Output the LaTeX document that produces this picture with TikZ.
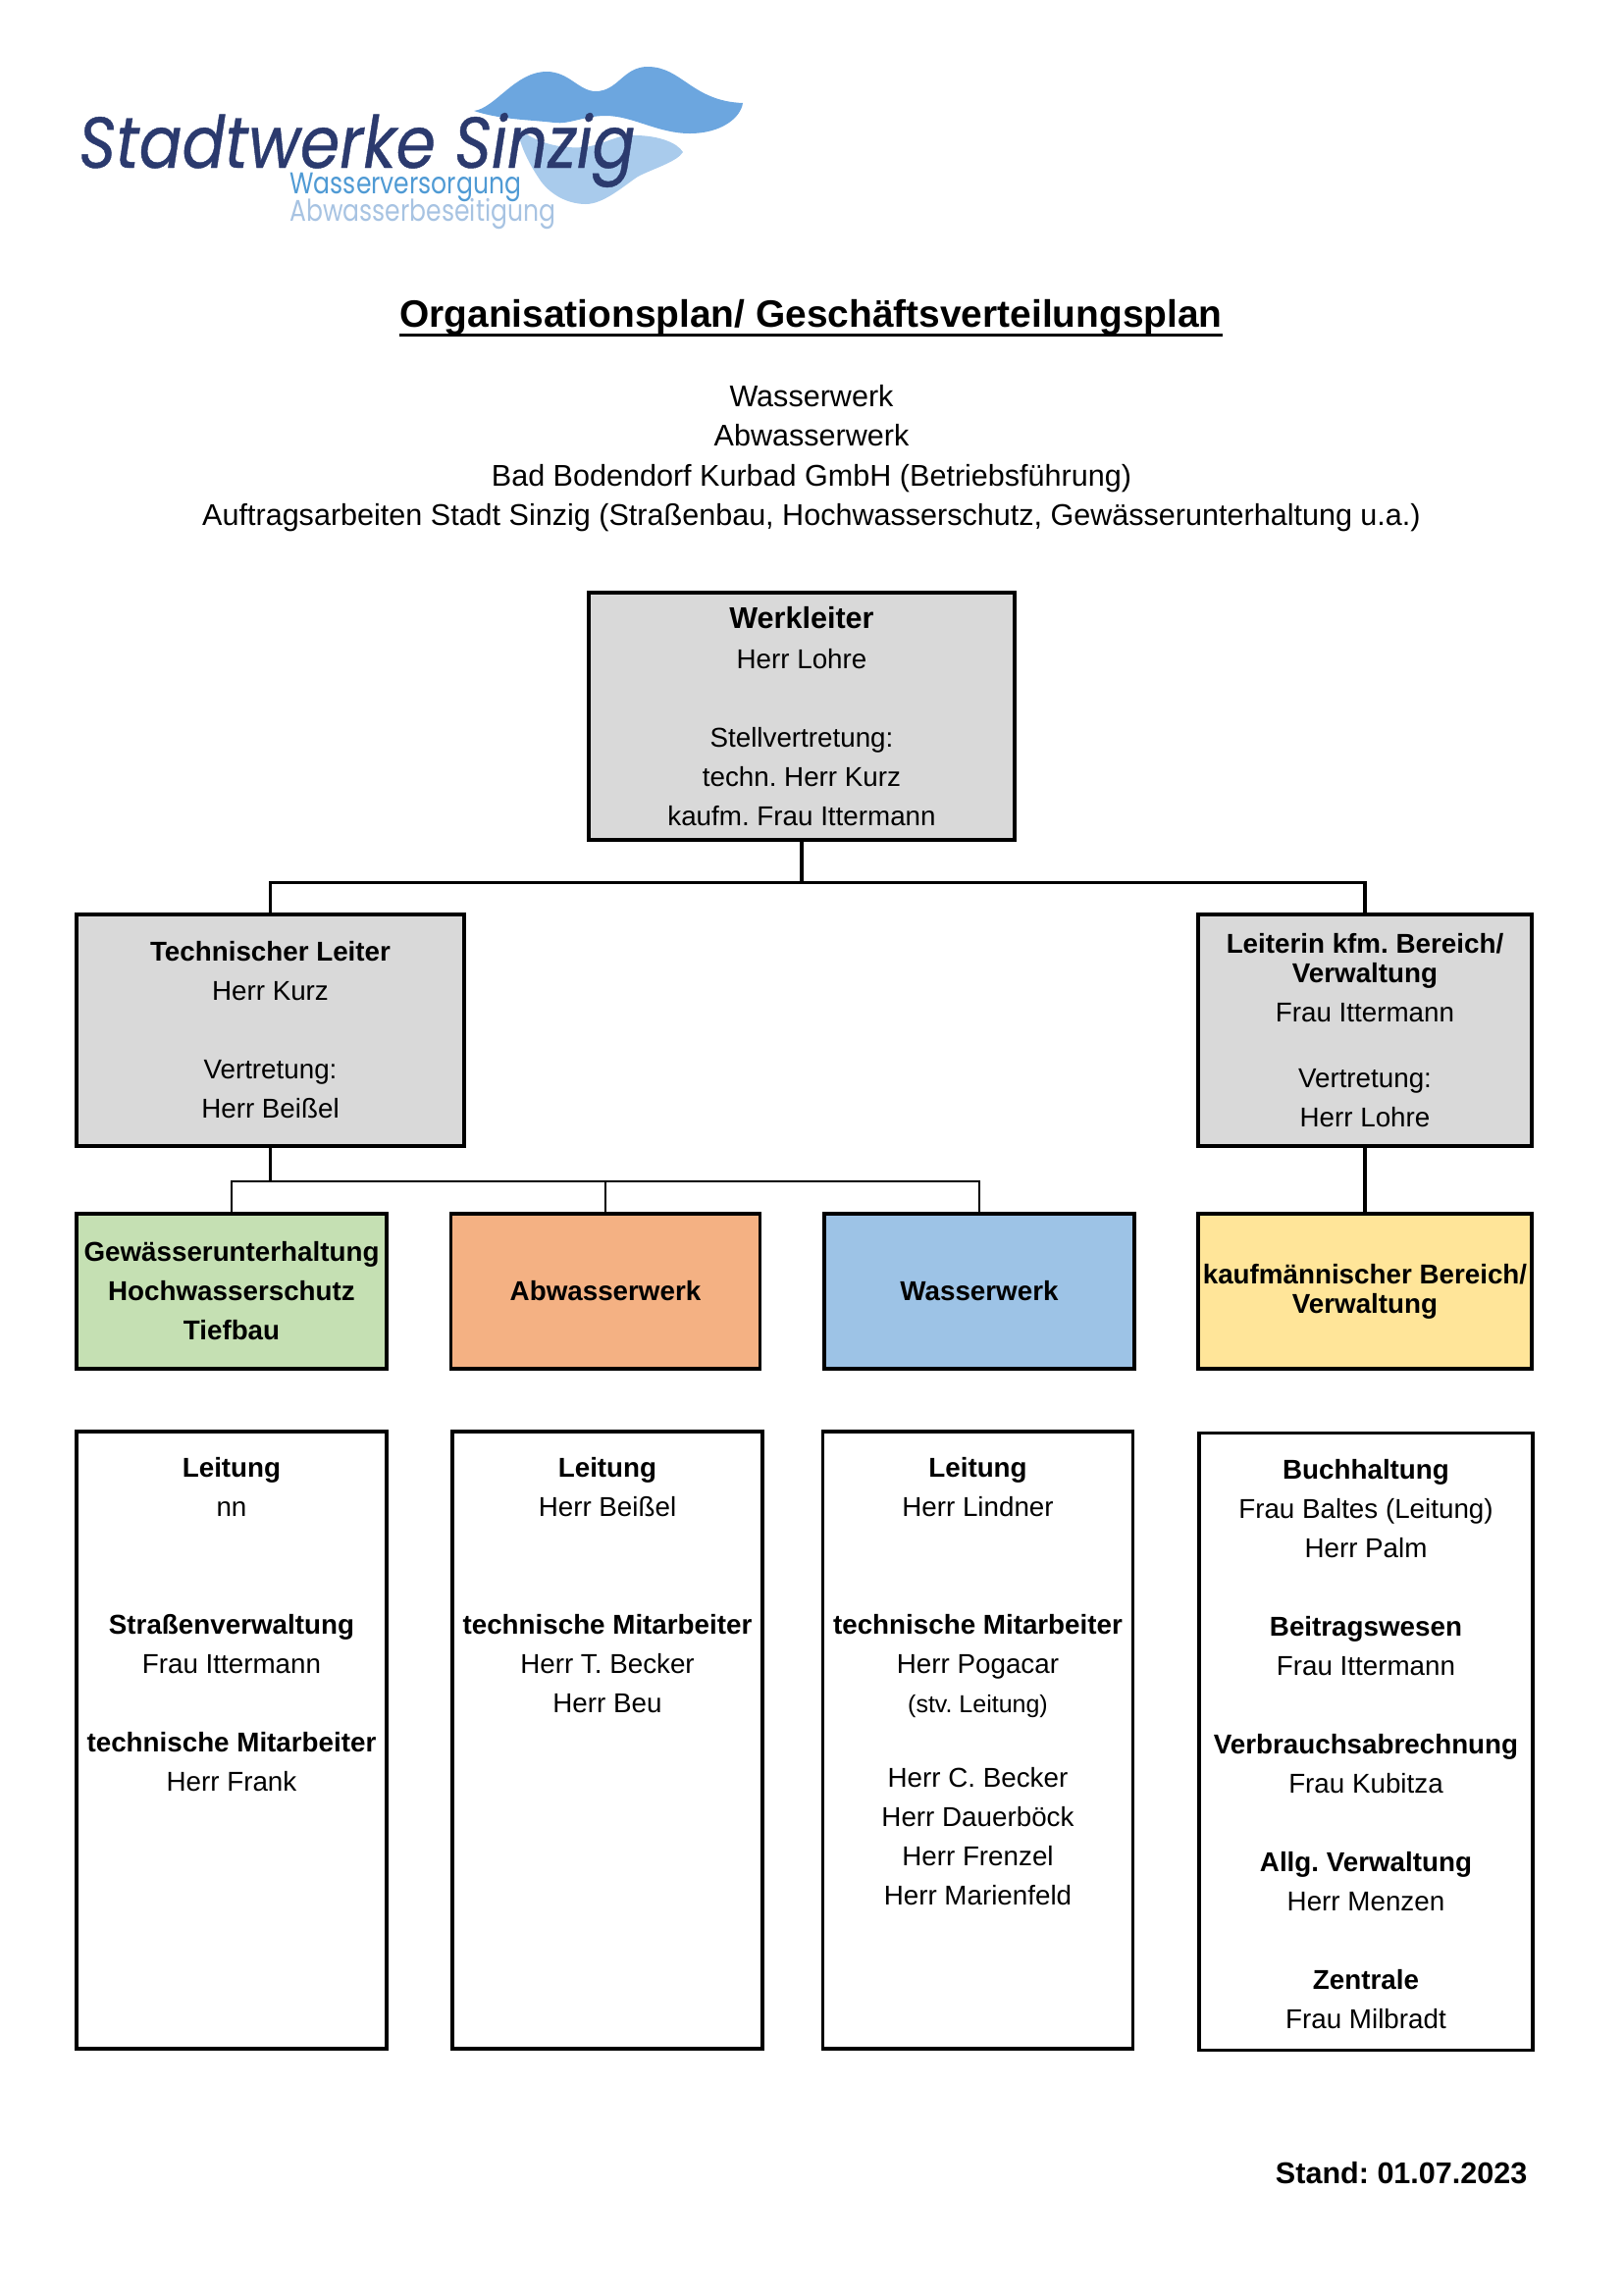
\documentclass[tikz,border=0pt]{standalone}
\usepackage{fontspec}
\setmainfont{Liberation Sans}
\newfontfamily\logofont{Poppins}
\definecolor{headgrey}{HTML}{D9D9D9}
\definecolor{gruen}{HTML}{C5E0B3}
\definecolor{orange}{HTML}{F4B183}
\definecolor{blau}{HTML}{9DC3E6}
\definecolor{gelb}{HTML}{FFE599}
\definecolor{logodark}{HTML}{2B3A6E}
\definecolor{logomid}{HTML}{4F9AD4}
\definecolor{logopale}{HTML}{A7C3E2}
\definecolor{wavedark}{HTML}{6CA6DF}
\definecolor{wavelight}{HTML}{A9CBEC}
\tikzset{
    orgbox/.style={draw, line width=1.1pt, inner sep=0pt, align=center, font=\frenchspacing\fontsize{10}{14.4}\selectfont},
    dept/.style={orgbox, minimum height=158*0.36pt, font=\frenchspacing\fontsize{10}{14.4}\selectfont\bfseries},
    panel/.style={orgbox, minimum width=316*0.36pt, minimum height=629*0.36pt},
    paneltext/.style={inner sep=0pt, align=center, anchor=north, font=\frenchspacing\fontsize{10}{14.4}\selectfont},
    link/.style={line width=1.1pt},
    thinlink/.style={line width=0.9pt},
}
\begin{document}
\begin{tikzpicture}[x=0.36pt,y=-0.36pt]
    \useasboundingbox (0,0) rectangle (1654,2339);
    % logo
    \fill[wavelight] (527,130) .. controls (545,145) and (570,152) .. (595,150) .. controls (615,148) and (630,136) .. (647,138) .. controls (670,138) and (690,145) .. (696,155) .. controls (690,165) and (665,172) .. (650,180) .. controls (635,190) and (615,208) .. (597,208) .. controls (575,208) and (558,195) .. (550,183) .. controls (540,168) and (530,150) .. (527,130) -- cycle;
    \fill[wavedark] (483,113) .. controls (505,110) and (525,73) .. (557,73) .. controls (580,73) and (590,93) .. (607,93) .. controls (630,93) and (635,68) .. (660,68) .. controls (695,68) and (705,103) .. (757,105) .. controls (755,120) and (735,136) .. (703,136) .. controls (670,136) and (645,118) .. (617,118) .. controls (595,118) and (580,127) .. (565,125) .. controls (540,122) and (510,122) .. (483,113) -- cycle;
    \node[inner sep=0pt, text=logodark, anchor=base west, xscale=0.88, font=\fontsize{26.5}{26.5}\logofont\itshape\addfontfeature{FakeBold=0.6}] (logoname) at (80,171) {Stadtwerke Sinzig};
    \node[inner sep=0pt, text=logomid, anchor=base west, xscale=0.82, font=\fontsize{11}{11}\logofont] (logowasser) at (295,197) {Wasserversorgung};
    \node[inner sep=0pt, text=logopale, anchor=base west, xscale=0.82, font=\fontsize{11}{11}\logofont] (logoabwasser) at (295,225) {Abwasserbeseitigung};
    % heads
    \node[inner sep=0pt, anchor=base, font=\fontsize{14}{14}\selectfont\bfseries] (title) at (826.5,333) {Organisationsplan/ Geschäftsverteilungsplan};
    \draw[line width=1.1pt] (title.south west) -- (title.south east);
    \node[inner sep=0pt, align=center, font=\frenchspacing\fontsize{11}{14.6}\selectfont] (subtitle) at (827,467) {Wasserwerk\\Abwasserwerk\\Bad Bodendorf Kurbad GmbH (Betriebsführung)\\Auftragsarbeiten Stadt Sinzig (Straßenbau, Hochwasserschutz, Gewässerunterhaltung u.a.)};
    % leaders
    \node[orgbox, fill=headgrey, minimum width=434*0.36pt, minimum height=252*0.36pt] (werkleiter) at (817,730) {{\fontsize{11}{14.4}\selectfont\bfseries Werkleiter}\\[0.5pt]Herr Lohre\\ \\Stellvertretung:\\techn. Herr Kurz\\kaufm. Frau Ittermann};
    \node[orgbox, fill=headgrey, minimum width=395*0.36pt, minimum height=236*0.36pt] (techleiter) at (275.5,1050) {\textbf{Technischer Leiter}\\Herr Kurz\\ \\Vertretung:\\Herr Beißel};
    \node[orgbox, fill=headgrey, minimum width=340*0.36pt, minimum height=236*0.36pt] (kfmleiter) at (1391,1050) {\textbf{Leiterin kfm. Bereich/}\\[-3.7pt]\textbf{Verwaltung}\\Frau Ittermann\\ \\[-4.8pt]Vertretung:\\Herr Lohre};
    % departments
    \node[dept, fill=gruen, minimum width=316*0.36pt] (gewaesser) at (236,1316) {Gewässerunterhaltung\\Hochwasserschutz\\Tiefbau};
    \node[dept, fill=orange, minimum width=315*0.36pt] (abwasser) at (617,1316) {Abwasserwerk};
    \node[dept, fill=blau, minimum width=316*0.36pt] (wasser) at (998,1316) {Wasserwerk};
    \node[dept, fill=gelb, minimum width=340*0.36pt] (kaufm) at (1391,1316) {kaufmännischer Bereich/\\[-3.7pt]Verwaltung};
    % staff
    \node[panel] (panelgew) at (236,1773.5) {};
    \node[panel] (panelabw) at (619,1773.5) {};
    \node[panel] (panelwas) at (996.5,1773.5) {};
    \node[panel, minimum width=340*0.36pt] (panelkfm) at (1392,1775) {};
    \node[paneltext] (textgew) at ([yshift=-9.9pt]panelgew.north) {\textbf{Leitung}\\nn\\ \\ \\\textbf{Straßenverwaltung}\\Frau Ittermann\\ \\\textbf{technische Mitarbeiter}\\Herr Frank};
    \node[paneltext] (textabw) at ([yshift=-9.9pt]panelabw.north) {\textbf{Leitung}\\Herr Beißel\\ \\ \\\textbf{technische Mitarbeiter}\\Herr T. Becker\\Herr Beu};
    \node[paneltext] (textwas) at ([yshift=-9.9pt]panelwas.north) {\textbf{Leitung}\\Herr Lindner\\ \\ \\\textbf{technische Mitarbeiter}\\Herr Pogacar\\{\fontsize{9}{14.4}\selectfont(stv. Leitung)}\\[13pt]Herr C. Becker\\Herr Dauerböck\\Herr Frenzel\\Herr Marienfeld};
    \node[paneltext] (textkfm) at ([yshift=-9.9pt]panelkfm.north) {\textbf{Buchhaltung}\\Frau Baltes (Leitung)\\Herr Palm\\ \\\textbf{Beitragswesen}\\Frau Ittermann\\ \\\textbf{Verbrauchsabrechnung}\\Frau Kubitza\\ \\\textbf{Allg. Verwaltung}\\Herr Menzen\\ \\\textbf{Zentrale}\\Frau Milbradt};
    \node[inner sep=0pt, anchor=east, font=\frenchspacing\fontsize{11}{14.4}\selectfont\bfseries] (stand) at (1557,2215) {Stand: 01.07.2023};
    % connectors
    \coordinate (topbus) at (817,899.5);
    \coordinate (lowbus) at (275.5,1204);
    \draw[link] (werkleiter.south) -- (topbus);
    \draw[link] (techleiter.north) |- (topbus) -| (kfmleiter.north);
    \draw[link] (techleiter.south) -- (lowbus);
    \draw[thinlink] (gewaesser.north) |- (lowbus);
    \draw[thinlink] (abwasser.north) |- (lowbus);
    \draw[thinlink] (wasser.north) |- (lowbus);
    \draw[link] (kfmleiter.south) -- (kaufm.north);
\end{tikzpicture}
\end{document}
